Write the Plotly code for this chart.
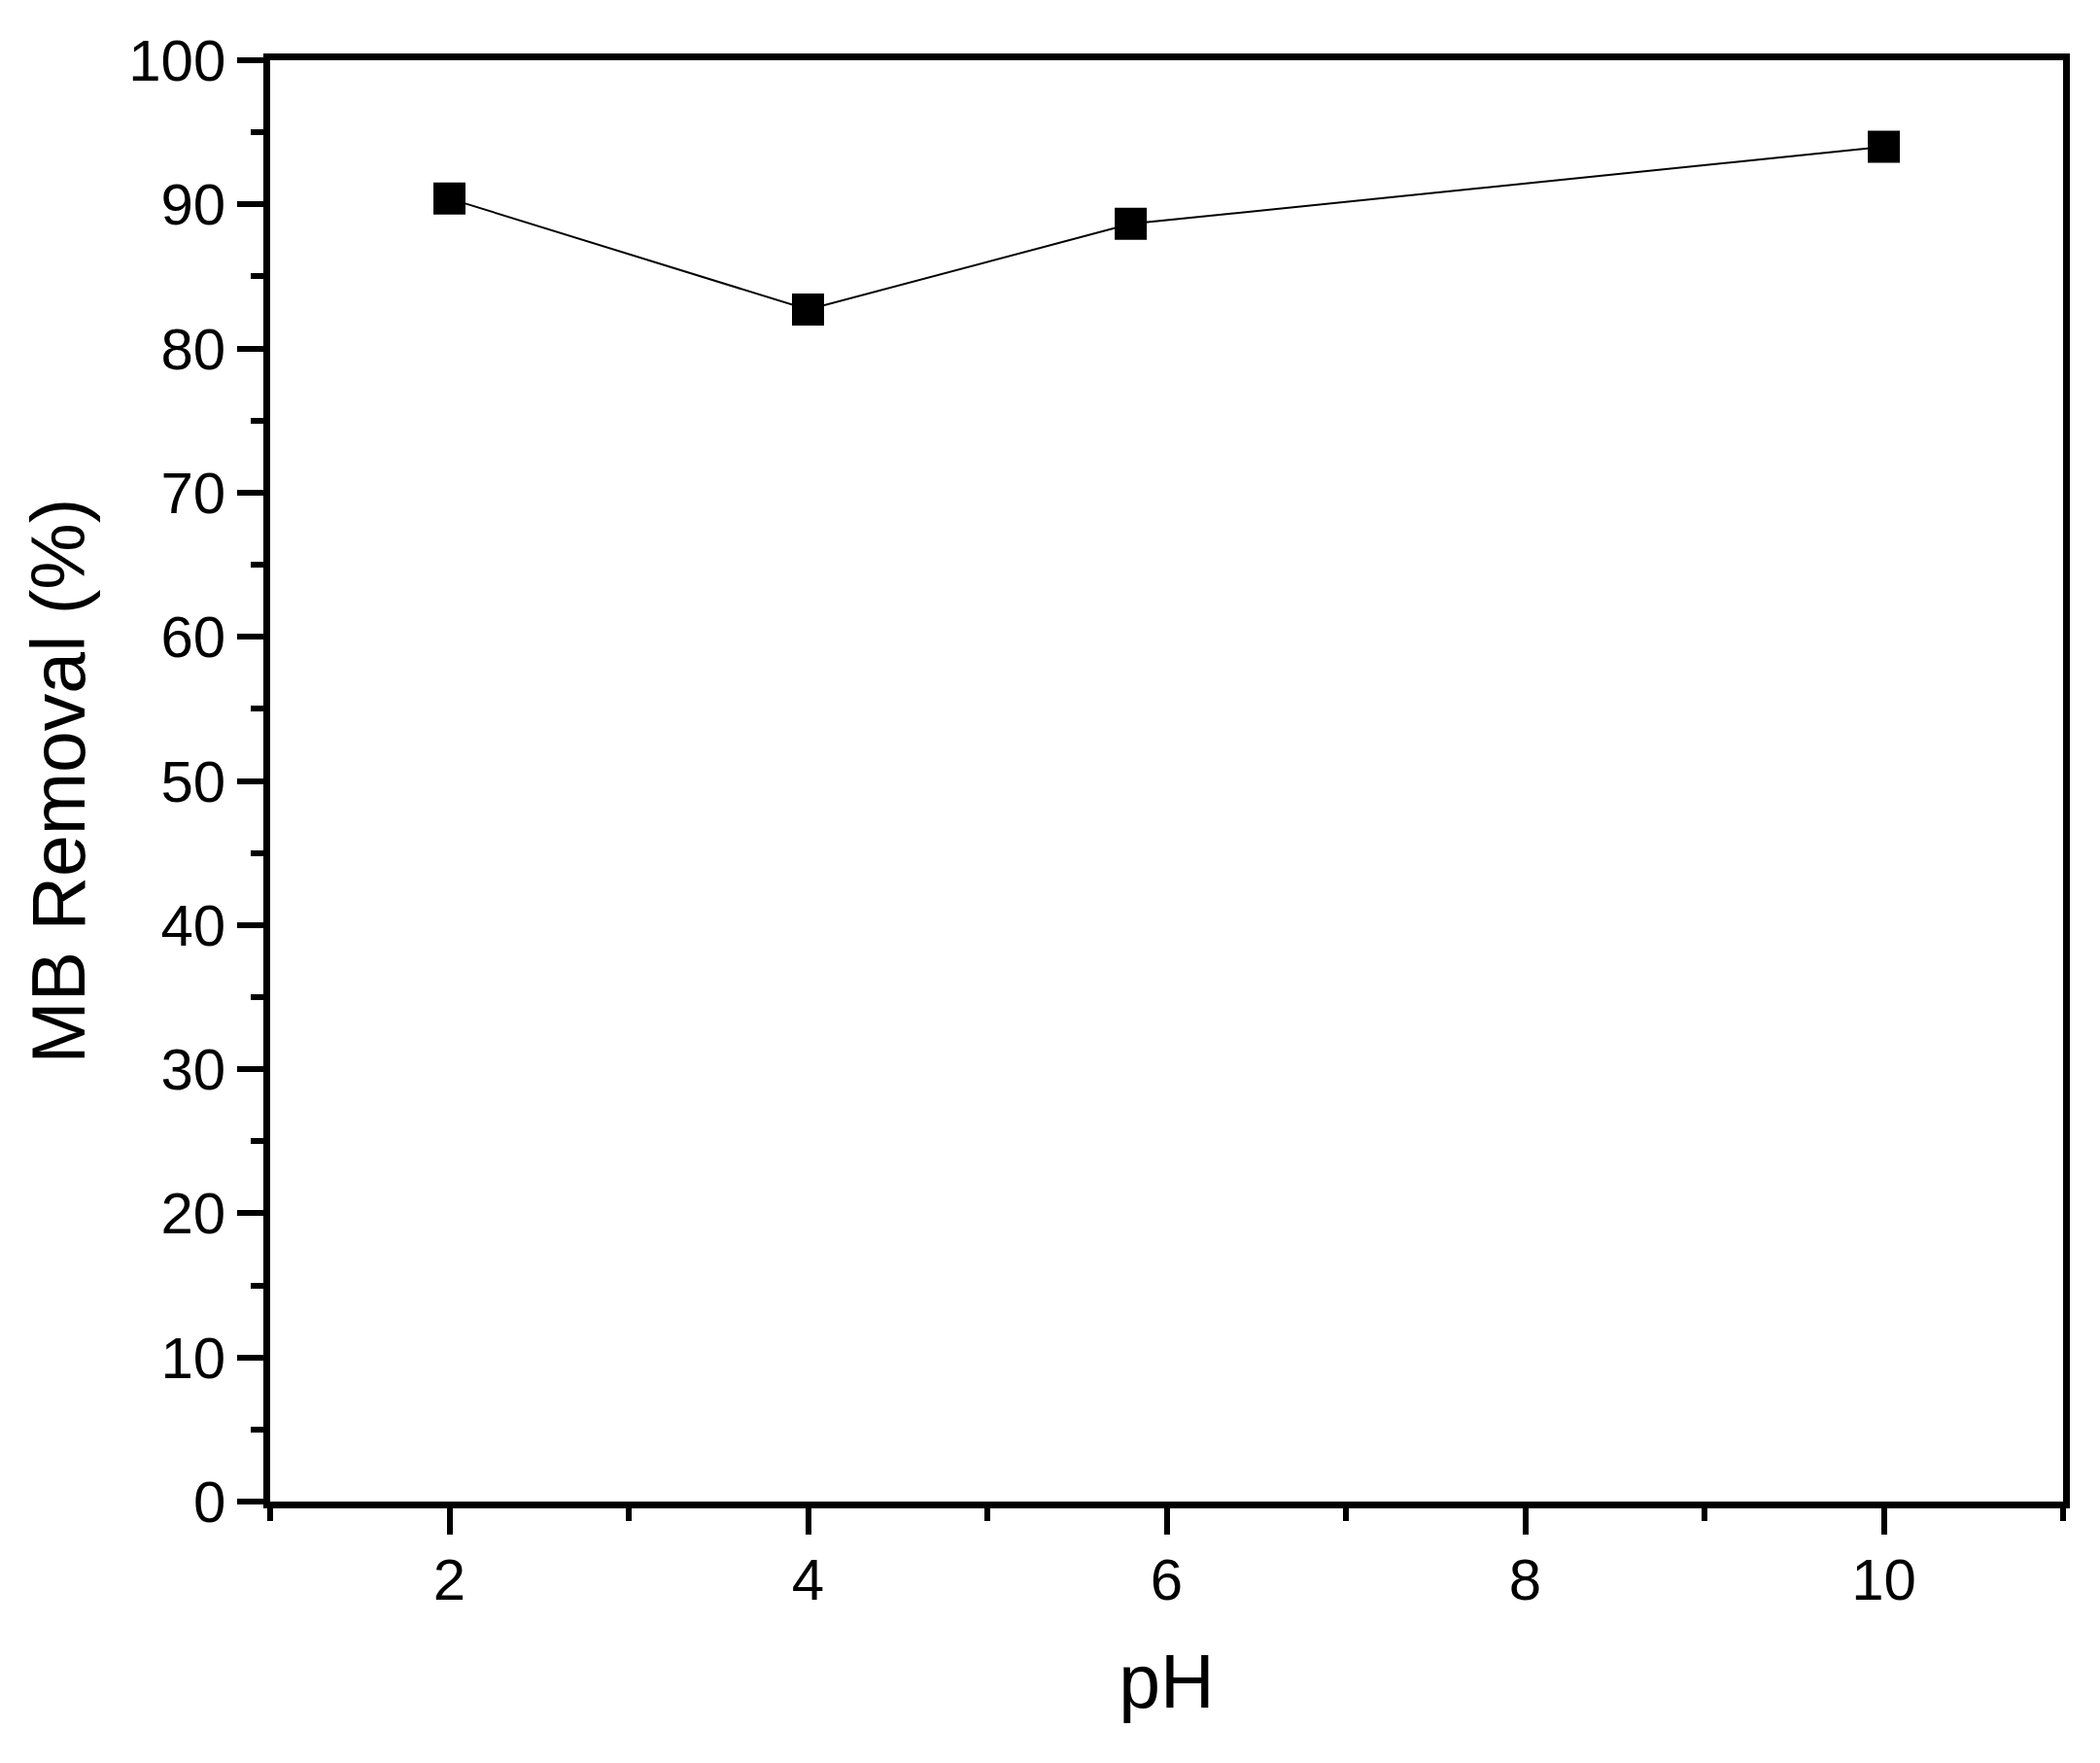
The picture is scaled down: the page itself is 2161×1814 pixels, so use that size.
import plotly.graph_objects as go

ph = [2, 4, 5.8, 10]
removal = [90.4, 82.7, 88.65, 94.0]

x_ticks = [2, 4, 6, 8, 10]
y_ticks = [0, 10, 20, 30, 40, 50, 60, 70, 80, 90, 100]

fig = go.Figure()
fig.add_trace(go.Scatter(
    x=ph, y=removal, mode="lines+markers",
    line=dict(color="black", width=2),
    marker=dict(symbol="square", size=33, color="black"),
    showlegend=False,
))

FONT = "Liberation Sans, Arial, sans-serif"
axis_common = dict(
    showline=True, linecolor="black", linewidth=6.5, mirror=True,
    ticks="outside", tickcolor="black", tickwidth=6, ticklen=27,
    showgrid=False, zeroline=False, automargin=False,
    tickfont=dict(family=FONT, size=60, color="black"),
    title_font=dict(family=FONT, size=77, color="black"),
)

fig.update_xaxes(
    range=[1, 11], tickvals=x_ticks, ticktext=[str(v) for v in x_ticks],
    minor=dict(dtick=1, tick0=1, ticks="outside", ticklen=13, tickwidth=6, tickcolor="black"),
    title_text="pH", title_standoff=48, ticklabelstandoff=-5,
    **axis_common,
)
fig.update_yaxes(
    range=[0, 100], tickvals=y_ticks, ticktext=[str(v) for v in y_ticks],
    minor=dict(dtick=5, tick0=0, ticks="outside", ticklen=13, tickwidth=6, tickcolor="black"),
    title_text="MB Removal (%)", title_standoff=22,
    **axis_common,
)

# page body has an 8px default margin; size the figure so the page is 2161x1814
fig.update_layout(
    width=2153, height=1806,
    margin=dict(l=270, r=38, t=54, b=269),
    plot_bgcolor="white", paper_bgcolor="white",
    font=dict(family=FONT, color="black"),
)

fig.write_html("out.html")
